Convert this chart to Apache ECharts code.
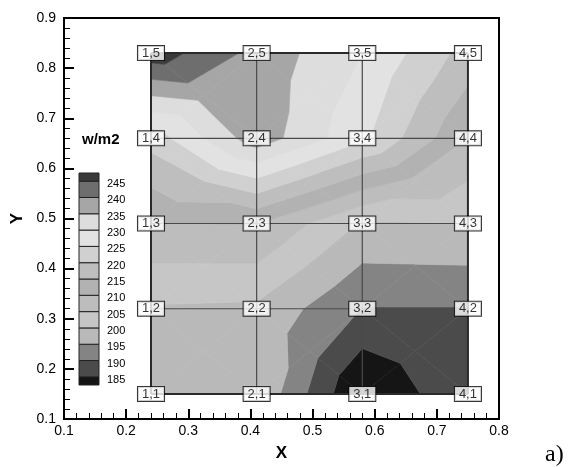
<!DOCTYPE html>
<html>
<head>
<meta charset="utf-8">
<script src="https://cdn.jsdelivr.net/npm/echarts@6/dist/echarts.min.js"></script>
<style>html,body{margin:0;padding:0;background:#fff}#c{width:570px;height:467px}</style>
</head>
<body>
<div id="c"></div>
<script>
// ---- data ----
const xNodes = [0.24, 0.41, 0.58, 0.75];
const yNodes = [0.15, 0.32, 0.49, 0.66, 0.83];
// heat flux (w/m2) at nodes, row j = 1..5 (bottom to top), column i = 1..4
const row1 = [198.0, 199.5, 179.5, 189.5];
const row2 = [199.5, 199.1, 189.8, 189.8];
const row3 = [209.8, 210.2, 199.5, 200.0];
const row4 = [222.0, 238.0, 226.0, 210.0];
const row5 = [248.0, 238.4, 230.0, 218.0];
const levels = [185, 190, 195, 200, 205, 210, 215, 220, 225, 230, 235, 240, 245];
// band colours from lowest (<185) to highest (>245)
const bandColors = ['#151515', '#4b4b4b', '#848484', '#b9b9b9', '#c6c6c6', '#bdbdbd', '#b2b2b2',
                    '#bebebe', '#d0d0d0', '#e2e2e2', '#dddddd', '#a6a6a6', '#6e6e6e', '#3a3a3a'];
const xTicks = [0.1, 0.2, 0.3, 0.4, 0.5, 0.6, 0.7, 0.8];
const yTicks = [0.1, 0.2, 0.3, 0.4, 0.5, 0.6, 0.7, 0.8, 0.9];
const legendTitle = 'w/m2';
const xName = 'X', yName = 'Y';

// ---- build band polygons (data space) ----
const grid = [row1, row2, row3, row4, row5];
function node(i, j) { return {x: xNodes[i], y: yNodes[j], v: grid[j][i]}; }
function clip(poly, level, keepAbove) {
  const out = [];
  const n = poly.length;
  for (let k = 0; k < n; k++) {
    const a = poly[k], b = poly[(k + 1) % n];
    const ain = keepAbove ? a.v >= level : a.v <= level;
    const bin = keepAbove ? b.v >= level : b.v <= level;
    if (ain) out.push(a);
    if (ain !== bin) {
      const t = (level - a.v) / (b.v - a.v);
      out.push({x: a.x + t * (b.x - a.x), y: a.y + t * (b.y - a.y), v: level});
    }
  }
  return out;
}
// each cell split into four triangles around its centre (mean of corners)
const tris = [];
for (let j = 0; j < yNodes.length - 1; j++) {
  for (let i = 0; i < xNodes.length - 1; i++) {
    const A = node(i, j), B = node(i + 1, j), C = node(i + 1, j + 1), D = node(i, j + 1);
    const M = {x: (A.x + B.x) / 2, y: (A.y + D.y) / 2, v: (A.v + B.v + C.v + D.v) / 4};
    tris.push([A, B, M], [B, C, M], [C, D, M], [D, A, M]);
  }
}
const edges = [-Infinity].concat(levels, [Infinity]);
const polys = [];
tris.forEach(t => {
  for (let k = 0; k < edges.length - 1; k++) {
    let p = t;
    if (edges[k] > -Infinity) p = clip(p, edges[k], true);
    if (p.length >= 3 && edges[k + 1] < Infinity) p = clip(p, edges[k + 1], false);
    if (p.length >= 3) polys.push({band: k, pts: p.map(q => [q.x, q.y])});
  }
});

// mesh lines
const meshLines = [];
for (let j = 0; j < yNodes.length; j++) meshLines.push({pts: xNodes.map(x => [x, yNodes[j]]), edge: j === 0 || j === yNodes.length - 1});
for (let i = 0; i < xNodes.length; i++) meshLines.push({pts: yNodes.map(y => [xNodes[i], y]), edge: i === 0 || i === xNodes.length - 1});

// node labels
const nodeLabels = [];
for (let j = 0; j < yNodes.length; j++)
  for (let i = 0; i < xNodes.length; i++)
    nodeLabels.push({name: (i + 1) + ',' + (j + 1), value: [xNodes[i], yNodes[j]]});

// ---- chart ----
const chart = echarts.init(document.getElementById('c'), null, {renderer: 'canvas'});
const FONT = 'Liberation Sans, Arial, sans-serif';

// legend graphic
const lgX = 79, lgW = 20, lgTop = 173, lgBottom = 385;
const step = (lgBottom - lgTop) / levels.length;
const graphics = [];
for (let k = 0; k < bandColors.length; k++) {
  let y0, y1;
  if (k === 0) { y1 = lgBottom; y0 = lgBottom - step / 2; }
  else if (k === bandColors.length - 1) { y0 = lgTop; y1 = lgTop + step / 2; }
  else { y1 = lgBottom - step / 2 - (k - 1) * step; y0 = y1 - step; }
  graphics.push({type: 'rect', shape: {x: lgX, y: y0, width: lgW, height: y1 - y0},
    style: {fill: bandColors[k], stroke: '#222', lineWidth: 1}});
}
levels.forEach((lv, k) => {
  const yb = lgBottom - step / 2 - k * step;
  graphics.push({type: 'text', x: 107, y: yb + 3,
    style: {text: String(lv), fill: '#000', font: '11px ' + FONT, textAlign: 'left', textVerticalAlign: 'middle'}});
});
graphics.push({type: 'text', x: 82, y: 140,
  style: {text: legendTitle, fill: '#000', font: 'bold 15px ' + FONT, textAlign: 'left', textVerticalAlign: 'middle'}});
graphics.push({type: 'text', x: 545, y: 455,
  style: {text: 'a)', fill: '#000', font: '24px Liberation Serif, Times New Roman, serif', textAlign: 'left', textVerticalAlign: 'middle'}});

chart.setOption({
  animation: false,
  backgroundColor: '#fff',
  grid: {left: 64, right: 71, top: 18, bottom: 47, show: true, borderColor: '#000', borderWidth: 2, backgroundColor: 'transparent'},
  xAxis: {
    type: 'value', min: xTicks[0], max: xTicks[xTicks.length - 1], interval: 0.1,
    name: xName, nameLocation: 'middle', nameGap: 26,
    nameTextStyle: {fontFamily: FONT, fontWeight: 'bold', fontSize: 17, color: '#000'},
    axisLine: {show: true, onZero: false, lineStyle: {color: '#000', width: 2}},
    axisTick: {show: true, inside: true, length: 10, lineStyle: {color: '#000', width: 2}},
    minorTick: {show: true, splitNumber: 5, length: 6, lineStyle: {color: '#000', width: 1}},
    splitLine: {show: false},
    axisLabel: {fontFamily: FONT, fontSize: 14, color: '#000', margin: 5, formatter: v => v.toFixed(1)}
  },
  yAxis: {
    type: 'value', min: yTicks[0], max: yTicks[yTicks.length - 1], interval: 0.1,
    name: yName, nameLocation: 'middle', nameGap: 38, nameRotate: 90,
    nameTextStyle: {fontFamily: FONT, fontWeight: 'bold', fontSize: 17, color: '#000'},
    axisLine: {show: true, onZero: false, lineStyle: {color: '#000', width: 2}},
    axisTick: {show: true, inside: true, length: 10, lineStyle: {color: '#000', width: 2}},
    minorTick: {show: true, splitNumber: 5, length: 6, lineStyle: {color: '#000', width: 1}},
    splitLine: {show: false},
    axisLabel: {fontFamily: FONT, fontSize: 14, color: '#000', margin: 8, formatter: v => v.toFixed(1)}
  },
  graphic: graphics,
  series: [
    {
      type: 'custom', z: 1, silent: true,
      data: polys.map(p => p.pts[0]),
      renderItem: (params, api) => {
        const p = polys[params.dataIndex];
        const col = bandColors[p.band];
        return {type: 'polygon', shape: {points: p.pts.map(q => api.coord(q))},
          style: {fill: col, stroke: col, lineWidth: 0.6}};
      }
    },
    {
      type: 'custom', z: 2, silent: true,
      data: meshLines.map(l => l.pts[0]),
      renderItem: (params, api) => {
        const l = meshLines[params.dataIndex];
        return {type: 'polyline', shape: {points: l.pts.map(q => api.coord(q))},
          style: {stroke: l.edge ? '#2a2a2a' : '#4a4a4a', lineWidth: l.edge ? 2 : 1.2, fill: null}};
      }
    },
    {
      type: 'scatter', z: 3, silent: true, symbolSize: 0,
      data: nodeLabels,
      label: {show: true, position: 'inside', formatter: p => p.name,
        fontFamily: FONT, fontSize: 13, color: '#000', lineHeight: 13,
        backgroundColor: '#fff', borderColor: '#000', borderWidth: 1, padding: [1, 4, 0, 4]}
    }
  ]
});
</script>
</body>
</html>
